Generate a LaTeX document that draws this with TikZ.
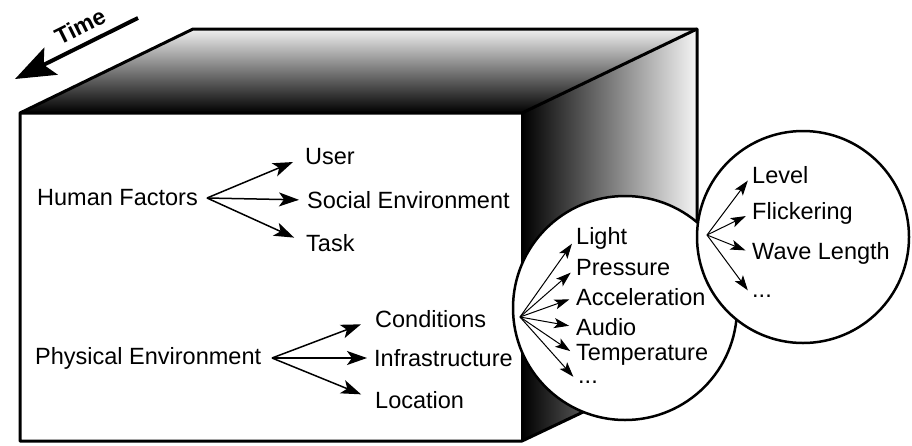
\documentclass[tikz,border=0pt]{standalone}
\usepackage{fontspec}
\setmainfont{Liberation Sans}
\usetikzlibrary{arrows.meta}
\begin{document}
\begin{tikzpicture}[x=1pt,y=-1pt,
  edge/.style={line width=3pt,line join=round},
  lbl/.style={anchor=west,inner sep=0pt,font=\fontsize{23.5}{28}\selectfont},
  big/.style={line width=1.5pt,-{Stealth[length=20pt,width=14pt,inset=5pt]}},
  small/.style={line width=1pt,-{Stealth[length=15pt,width=10pt,inset=3.5pt]}},
  bubble/.style={circle,draw,fill=white,line width=2.5pt,inner sep=0pt}]
\useasboundingbox (0,0) rectangle (912,445);

% shaded faces of the block
\shade[top color=white!94!black,bottom color=black]
  (20,113) -- (193,29) -- (697,29) -- (522,113) -- cycle;
\shade[left color=black,right color=white!96!black]
  (522,113) -- (697,29) -- (697,358) -- (522,441) -- cycle;
\fill[white] (20,113) rectangle (522,441);

% block outline
\draw[edge] (20,113) -- (193,29) -- (697,29) -- (697,358) -- (522,441) -- (20,441) -- cycle;
\draw[edge] (20,113) -- (522,113) -- (697,29);
\draw[edge] (522,113) -- (522,441);

% time arrow
\coordinate (ttail) at (138,18);
\coordinate (thead) at (15,79);
\draw[line width=4pt,-{Stealth[length=40pt,width=30pt,inset=8pt]}] (ttail) -- (thead);
\node[font=\bfseries\fontsize{23}{26}\selectfont,rotate=26.4,inner sep=0pt] (time) at (80,26) {Time};

% front face: human factors
\node[lbl] (hf) at (37,198) {Human Factors};
\coordinate (hfs) at (207,198);
\node[lbl] (user) at (305,157) {User};
\node[lbl] (social) at (307,200) {Social Environment};
\node[lbl] (task) at (306,243) {Task};
\draw[big,shorten >=13pt] (hfs) -- (user.west);
\draw[big,shorten >=8pt] (hfs) -- (social.west);
\draw[big,shorten >=13pt] (hfs) -- (task.west);

% front face: physical environment
\node[lbl] (pe) at (35,358) {Physical Environment};
\coordinate (pes) at (272,358);
\node[lbl] (cond) at (375,319) {Conditions};
\node[lbl] (infra) at (374,358) {Infrastructure};
\node[lbl] (loc) at (375,400) {Location};
\draw[big,shorten >=15pt] (pes) -- (cond.west);
\draw[big,shorten >=7pt] (pes) -- (infra.west);
\draw[big,shorten >=15pt] (pes) -- (loc.west);

% sensor bubble
\node[bubble,minimum size=224pt] (c1) at (625,308) {};
\coordinate (c1s) at (520,317);
\node[lbl] (light) at (576,238) {Light};
\node[lbl] (press) at (576,268) {Pressure};
\node[lbl] (accel) at (576,297) {Acceleration};
\node[lbl] (audio) at (576,327) {Audio};
\node[lbl] (temp) at (576,355) {Temperature};
\node[lbl] (more1) at (578,382) {...};
\foreach \t in {light,press,accel,audio,temp,more1}
  \draw[small,shorten >=7pt] (c1s) -- (\t.west);

% light detail bubble
\node[bubble,minimum size=212pt] (c2) at (803,237) {};
\coordinate (c2s) at (707,235);
\node[lbl] (level) at (752,175) {Level};
\node[lbl] (flick) at (752,213) {Flickering};
\node[lbl] (wave) at (752,253) {Wave Length};
\node[lbl] (more2) at (752,296) {...};
\foreach \t in {level,flick,wave,more2}
  \draw[small,shorten >=7pt] (c2s) -- (\t.west);
\end{tikzpicture}
\end{document}
